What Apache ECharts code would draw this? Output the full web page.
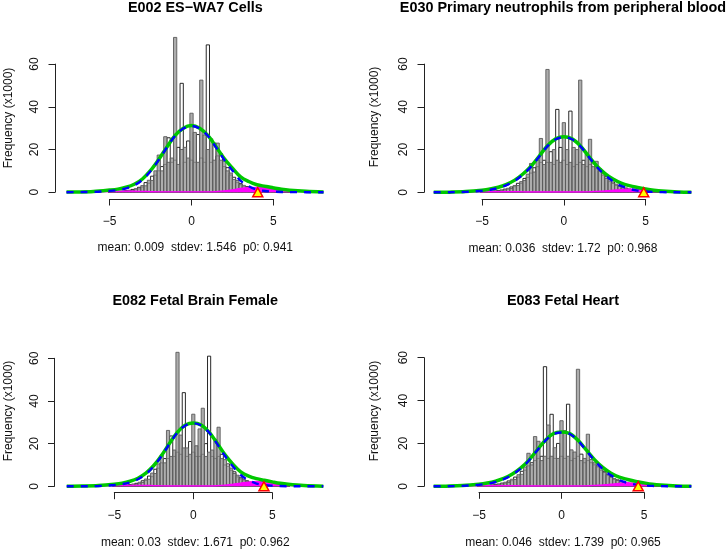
<!DOCTYPE html>
<html><head><meta charset="utf-8">
<script src="https://cdn.jsdelivr.net/npm/echarts@6/dist/echarts.min.js"></script>
<style>html,body{margin:0;padding:0;background:#fff}#c{width:726px;height:551px}</style>
</head><body><div id="c"></div>
<script>
// ---------------- DATA ----------------
const titles = ["E002 ES\u2212WA7 Cells", "E030 Primary neutrophils from peripheral blood", "E082 Fetal Brain Female", "E083 Fetal Heart"];
const subtitles = ["mean: 0.009  stdev: 1.546  p0: 0.941", "mean: 0.036  stdev: 1.72  p0: 0.968", "mean: 0.03  stdev: 1.671  p0: 0.962", "mean: 0.046  stdev: 1.739  p0: 0.965"];
const yTitle = "Frequency (x1000)";
const xTicks = [-5, 0, 5];
const yTicks = [0, 20, 40, 60];
const binWidth = 0.2;
const binCenters = [-5.0,-4.8,-4.6,-4.4,-4.2,-4.0,-3.8,-3.6,-3.4,-3.2,-3.0,-2.8,-2.6,-2.4,-2.2,-2.0,-1.8,-1.6,-1.4,-1.2,-1.0,-0.8,-0.6,-0.4,-0.2,0.0,0.2,0.4,0.6,0.8,1.0,1.2,1.4,1.6,1.8,2.0,2.2,2.4,2.6,2.8,3.0,3.2,3.4,3.6,3.8,4.0,4.2,4.4,4.6,4.8,5.0,5.2,5.4,5.6,5.8,6.0];

const gray1 = [0.2,0.2,0.35,0.3,0.55,0.5,0.95,0.9,1.7,1.6, 3.1,3.0,5.6,5.5,10,17.4,10,26,14,16, 72.5,13,20,21,16,37,28,14,52.5,26.8, 20,25,15,23,15,14.5,10,9,6,5.5, 3.5,3.2,2.2,2.0,1.4,1.4,0.9,0.9,0.55,0.5, 0.3,0.3,0.15,0.15,0.08,0.08];
const white1 = [0.15,0.3,0.25,0.45,0.4,0.75,0.7,1.3,1.2,2.3, 2.4,4.5,4.2,7.5,8,10,12,13,25.5,14, 15,21,51,14,24,15,14,27,16,14, 69,14,23,17,18,12,11.5,8,7,4.5, 4,2.6,2.6,1.6,1.7,1.1,1.1,0.7,0.65,0.4, 0.4,0.2,0.2,0.1,0.1,0.05];
const gray2 = [0.25,0.25,0.45,0.4,0.7,0.65,1.15,1.1,1.9,1.8, 3.2,3.2,5.0,5.5,8.5,13.5,9.5,15,25.2,13, 57.5,14,20,15,14,32.6,20,14,21,20, 52.5,13,18,24.8,12,14.5,10,9,6.5,6, 4.2,3.8,2.7,2.4,1.7,1.6,1.1,1.0,0.65,0.6, 0.35,0.35,0.2,0.15,0.1,0.08];
const white2 = [0.2,0.35,0.3,0.55,0.5,0.9,0.85,1.5,1.4,2.5, 2.6,4.2,4.2,6.5,7,9,11.5,12,14,15, 14,19,13,38.8,21,15,13,38,12,13, 14,15,12,13,14,11,11,8,7.5,5, 4.8,3.2,3.0,2.0,2.0,1.3,1.3,0.8,0.75,0.5, 0.45,0.25,0.22,0.12,0.1,0.06];
const gray3 = [0.2,0.2,0.4,0.35,0.65,0.6,1.1,1.0,1.9,1.8, 3.4,3.3,6.2,6,10.5,14.7,11,26.2,14,17, 62.8,24,18,18,15,33.8,19,26.9,36.6,14, 16,17,22,27.7,13,12.5,9.5,8.5,6,5.2, 3.5,3.2,2.2,2.0,1.4,1.4,0.9,0.9,0.55,0.5, 0.3,0.3,0.15,0.15,0.08,0.08];
const white3 = [0.15,0.3,0.3,0.5,0.45,0.85,0.8,1.4,1.3,2.6, 2.7,4.8,4.5,8,8.5,11,13,13,23.6,14, 16,15,43.9,14,21,16,14,14,15,20, 61,14,13,14,15,10,10.5,7.5,6.8,4.4, 4.0,2.6,2.6,1.6,1.7,1.1,1.1,0.7,0.65,0.4, 0.4,0.2,0.2,0.1,0.1,0.05];
const gray4 = [0.25,0.25,0.45,0.4,0.7,0.65,1.15,1.1,1.9,1.8, 3.3,3.2,5.4,5.6,9,15.4,10,23.2,21,12, 14,28.6,14,18,13,30.6,26,14,17,16, 54.6,12,13,24.3,12.5,11,9.5,8.8,6.5,5.5, 4.2,3.6,2.7,2.4,1.7,1.6,1.1,1.0,0.65,0.6, 0.35,0.35,0.2,0.15,0.1,0.08];
const white4 = [0.2,0.35,0.3,0.55,0.5,0.9,0.85,1.5,1.4,2.5, 2.6,4.3,4.3,7,7.5,9.5,11,12,13,14, 55.8,13,33.6,13,20,14,13,38.3,12,13, 14,15,11,12,11,10,9,7.5,7,5, 4.6,3.2,3.0,2.0,2.0,1.3,1.3,0.8,0.75,0.5, 0.45,0.25,0.22,0.12,0.1,0.06];

const curveX1 = [-7.64,-7,-6,-5,-4.5,-4,-3.5,-3,-2.5,-2,-1.5,-1,-0.5,0,0.5,1,1.5,2,2.5,3,3.5,4,4.5,5,5.5,6,7,8.07];
const blue1  = [0,0.03,0.15,0.6,1.0,1.8,3.2,5.8,9.9,15.2,21,26.4,29.8,31,29.8,26.4,21,15.2,10.2,5.4,2.8,1.2,0.55,0.25,0.1,0.05,0.01,0];
const mag1   = [0,0.05,0.2,0.4,0.45,0.5,0.5,0.4,0.3,0.2,0.2,0.2,0.2,0.2,0.2,0.2,0.3,0.6,1.1,1.8,2.2,2.3,2.2,1.8,1.3,0.9,0.4,0.05];
const green1 = [0.05,0.1,0.35,1.0,1.45,2.3,3.7,6.2,10.2,15.4,21.2,26.6,30,31.2,30,26.6,21.3,15.8,11.3,7.2,5.0,3.5,2.75,2.05,1.4,0.95,0.41,0.05];

const curveX2 = [-7.95,-7,-6,-5,-4.5,-4,-3.5,-3,-2.5,-2,-1.5,-1,-0.5,0,0.5,1,1.5,2,2.5,3,3.5,4,4.5,5,5.5,6,7,7.79];
const blue2  = [0,0.04,0.2,0.7,1.2,2.0,3.4,5.4,8.3,12,16.8,21.6,24.8,25.8,24.8,21.6,16.8,12,8.2,5.2,3.0,1.6,0.8,0.4,0.18,0.08,0.01,0];
const mag2   = [0,0.04,0.12,0.25,0.3,0.35,0.35,0.3,0.25,0.2,0.2,0.2,0.2,0.2,0.2,0.2,0.25,0.45,0.7,1.0,1.3,1.5,1.45,1.15,0.8,0.5,0.15,0.03];
const green2 = [0,0.08,0.32,0.95,1.5,2.35,3.75,5.7,8.55,12.2,17,21.8,25,26,25,21.8,17.05,12.45,8.9,6.2,4.3,3.1,2.25,1.55,0.98,0.58,0.16,0.03];

const curveX3 = [-8.01,-7,-6,-5,-4.5,-4,-3.5,-3,-2.5,-2,-1.5,-1,-0.5,0,0.5,1,1.5,2,2.5,3,3.5,4,4.5,5,5.5,6,7,8.23];
const blue3  = [0,0.03,0.15,0.6,1.05,1.85,3.3,5.7,9.4,14.3,20,25.2,28.5,29.5,28.5,25.2,20,14.3,9.4,5.3,2.8,1.3,0.6,0.28,0.12,0.05,0.01,0];
const mag3   = [0,0.06,0.18,0.35,0.4,0.5,0.5,0.45,0.35,0.25,0.2,0.2,0.2,0.2,0.2,0.2,0.3,0.55,1.0,1.5,2.0,2.3,2.2,1.8,1.3,0.9,0.35,0.05];
const green3 = [0,0.09,0.33,0.95,1.45,2.35,3.8,6.15,9.75,14.55,20.2,25.4,28.7,29.7,28.7,25.4,20.3,14.85,10.4,6.8,4.8,3.6,2.8,2.08,1.42,0.95,0.36,0.05];

const curveX4 = [-7.75,-7,-6,-5,-4.5,-4,-3.5,-3,-2.5,-2,-1.5,-1,-0.5,0,0.5,1,1.5,2,2.5,3,3.5,4,4.5,5,5.5,6,7,7.87];
const blue4  = [0,0.04,0.2,0.7,1.2,2.0,3.3,5.3,8.1,11.8,16.5,21.1,24.3,25.1,24.4,21.3,16.7,12,8.1,5.1,2.9,1.6,0.8,0.4,0.18,0.08,0.01,0];
const mag4   = [0,0.04,0.12,0.25,0.3,0.35,0.35,0.3,0.25,0.2,0.2,0.2,0.2,0.2,0.2,0.2,0.25,0.45,0.7,1.0,1.35,1.6,1.5,1.2,0.8,0.5,0.15,0.03];
const green4 = [0,0.08,0.32,0.95,1.5,2.35,3.65,5.6,8.35,12,16.7,21.3,24.5,25.3,24.6,21.5,16.95,12.45,8.8,6.1,4.25,3.2,2.3,1.6,0.98,0.58,0.16,0.03];

const markerX = [4.05, 4.88, 4.47, 4.65];

// ---------------- LAYOUT / STYLE ----------------
const FONT = "'Liberation Sans', Arial, Helvetica, sans-serif";
const GW = 280;
const layout = [
  {yAxisX:55,   xm5:109.7, x5:273.3, y0:192.2, y60:64.1,  xAxisY:199,   cx:195.3, titleY:8,   subY:248,   yTitleX:8.3,   yTitleY:118},
  {yAxisX:424,  xm5:482,   x5:645.7, y0:192.3, y60:64.1,  xAxisY:199,   cx:563,   titleY:8.3, subY:248.3, yTitleX:374.3, yTitleY:117},
  {yAxisX:54.5, xm5:114.3, x5:272.3, y0:486.3, y60:358.3, xAxisY:492.7, cx:195.3, titleY:301, subY:542.7, yTitleX:8.3,   yTitleY:411},
  {yAxisX:424,  xm5:479,   x5:644,   y0:486.3, y60:357.7, xAxisY:492.3, cx:563,   titleY:301, subY:542.7, yTitleX:374.3, yTitleY:411}
];
const panels = [
  {gray:gray1, white:white1, cx:curveX1, blue:blue1, mag:mag1, green:green1},
  {gray:gray2, white:white2, cx:curveX2, blue:blue2, mag:mag2, green:green2},
  {gray:gray3, white:white3, cx:curveX3, blue:blue3, mag:mag3, green:green3},
  {gray:gray4, white:white4, cx:curveX4, blue:blue4, mag:mag4, green:green4}
];

function barRender(isGray){
  return function(params, api){
    const c = api.value(0), h = api.value(1);
    const a = api.coord([c - binWidth/2, 0]);
    const b = api.coord([c + binWidth/2, h]);
    return {
      type:'rect',
      shape:{x:a[0], y:b[1], width:b[0]-a[0], height:a[1]-b[1]},
      style: isGray ? {fill:'rgba(150,150,150,0.78)', stroke:'#5a5a5a', lineWidth:0.9}
                    : {fill:'#ffffff', stroke:'#111', lineWidth:0.9}
    };
  };
}
const zip = (xs, ys) => xs.map((x,k)=>[x, ys[k]]);
const minusFmt = v => String(v).replace('-', '\u2212');

const grid = [], xAxis = [], yAxis = [], series = [], graphic = [];
layout.forEach((L, i) => {
  const P = panels[i];
  const scale = (L.x5 - L.xm5) / 10;
  const zero = (L.x5 + L.xm5) / 2;
  const xMin = (L.yAxisX - zero) / scale;
  const xMax = (L.yAxisX + GW - zero) / scale;
  grid.push({left:L.yAxisX, top:L.y60, width:GW, height:L.y0 - L.y60, containLabel:false});
  grid.push({left:L.xm5, top:L.xAxisY - 20, width:L.x5 - L.xm5, height:20, containLabel:false});
  xAxis.push({gridIndex:2*i, type:'value', min:xMin, max:xMax, show:false, axisLine:{onZero:false}});
  xAxis.push({gridIndex:2*i+1, type:'value', min:xTicks[0], max:xTicks[xTicks.length-1], interval:xTicks[1]-xTicks[0],
    axisLine:{show:true, onZero:false, lineStyle:{color:'#222', width:1}},
    axisTick:{show:true, length:6.5, lineStyle:{color:'#222', width:1}},
    axisLabel:{show:true, fontSize:12, color:'#111', margin:17, fontFamily:FONT, formatter:minusFmt},
    splitLine:{show:false}});
  yAxis.push({gridIndex:2*i, type:'value', min:yTicks[0], max:yTicks[yTicks.length-1], interval:yTicks[1]-yTicks[0],
    axisLine:{show:true, onZero:false, lineStyle:{color:'#222', width:1}},
    axisTick:{show:true, length:6.5, lineStyle:{color:'#222', width:1}},
    axisLabel:{show:true, rotate:90, fontSize:12, color:'#111', margin:14, fontFamily:FONT},
    splitLine:{show:false}});
  yAxis.push({gridIndex:2*i+1, type:'value', min:0, max:1, show:false, axisLine:{onZero:false}});

  const xi = 2*i, yi = 2*i;
  series.push({type:'custom', xAxisIndex:xi, yAxisIndex:yi, renderItem:barRender(false), data:zip(binCenters, P.white), z:1, silent:true, clip:false});
  series.push({type:'custom', xAxisIndex:xi, yAxisIndex:yi, renderItem:barRender(true), data:zip(binCenters, P.gray), z:2, silent:true, clip:false});
  series.push({type:'line', xAxisIndex:xi, yAxisIndex:yi, data:zip(P.cx, P.mag), smooth:0.35, showSymbol:false, silent:true,
    lineStyle:{color:'#ff00ff', width:1.2}, areaStyle:{color:'#ff00ff', opacity:1}, z:3, clip:false});
  series.push({type:'line', xAxisIndex:xi, yAxisIndex:yi, data:zip(P.cx, P.green), smooth:0.35, showSymbol:false, silent:true,
    lineStyle:{color:'#00c800', width:3.5}, z:4, clip:false});
  series.push({type:'line', xAxisIndex:xi, yAxisIndex:yi, data:zip(P.cx, P.blue), smooth:0.35, showSymbol:false, silent:true,
    lineStyle:{color:'#0000ff', width:2.4, type:[7,7]}, z:5, clip:false});
  series.push({type:'scatter', xAxisIndex:xi, yAxisIndex:yi, data:[[markerX[i], 0]], symbol:'triangle', symbolSize:[10,9], silent:true,
    itemStyle:{color:'#ffff00', borderColor:'#ff0000', borderWidth:1.5, opacity:1}, z:6, clip:false});

  graphic.push({type:'text', x:L.cx, y:L.titleY, silent:true,
    style:{text:titles[i], font:"bold 14.4px " + FONT, fill:'#000', textAlign:'center', textVerticalAlign:'middle', align:'center', verticalAlign:'middle'}});
  graphic.push({type:'text', x:L.cx, y:L.subY, silent:true,
    style:{text:subtitles[i], font:"12px " + FONT, fill:'#111', textAlign:'center', textVerticalAlign:'middle', align:'center', verticalAlign:'middle'}});
  graphic.push({type:'text', x:L.yTitleX, y:L.yTitleY, rotation:Math.PI/2, silent:true,
    style:{text:yTitle, font:"12px " + FONT, fill:'#111', textAlign:'center', textVerticalAlign:'middle', align:'center', verticalAlign:'middle'}});
});

const chart = echarts.init(document.getElementById('c'), null, {renderer:'canvas'});
chart.setOption({backgroundColor:'#ffffff', animation:false, grid, xAxis, yAxis, series, graphic});
</script></body></html>
